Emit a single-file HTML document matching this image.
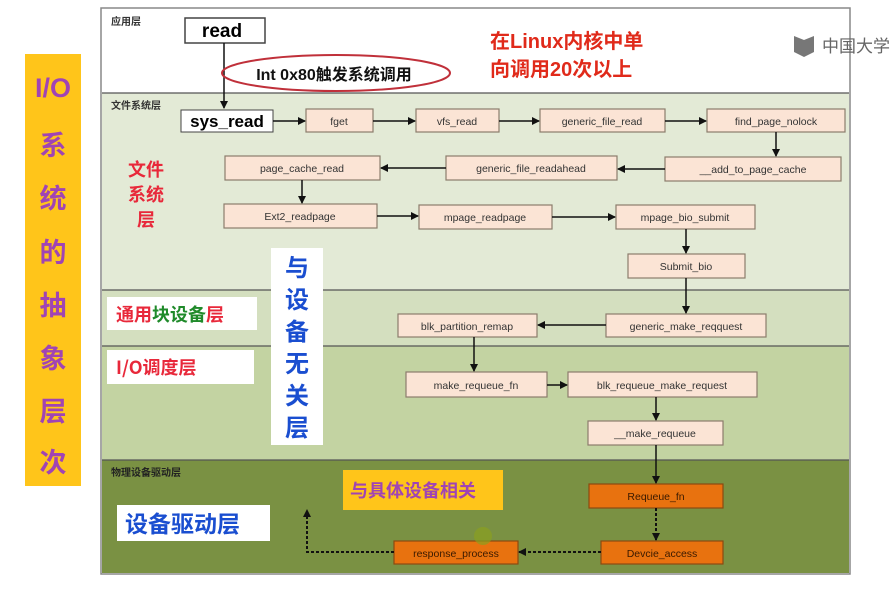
<!DOCTYPE html>
<html><head><meta charset="utf-8"><style>
html,body{margin:0;padding:0;background:#fff;width:891px;height:589px;overflow:hidden}
text{font-family:"Liberation Sans","Noto Sans CJK SC",sans-serif}
.cj{font-family:"Noto Sans CJK SC","WenQuanYi Zen Hei",sans-serif;font-weight:bold}
</style></head><body>
<svg width="891" height="589" viewBox="0 0 891 589" xmlns="http://www.w3.org/2000/svg">
<defs>
<marker id="a" markerWidth="8" markerHeight="8" refX="7" refY="4" orient="auto" markerUnits="userSpaceOnUse"><path d="M0,0 L8,4 L0,8 z" fill="#111"/></marker>
</defs>
<rect x="25" y="54" width="56" height="432" fill="#ffc51a"/>
<g class="cj" fill="#a044b4" font-size="27" text-anchor="middle">
<text x="53" y="97" font-family="Liberation Sans" font-weight="bold">I/O</text>
<text x="53" y="155">系</text><text x="53" y="208">统</text><text x="53" y="262">的</text>
<text x="53" y="315">抽</text><text x="53" y="368">象</text><text x="53" y="421">层</text><text x="53" y="472">次</text>
</g>
<rect x="101" y="8" width="749" height="566" fill="#fff" stroke="#888" stroke-width="1.5"/>
<rect x="102" y="93" width="747" height="197" fill="#e3ead6"/>
<rect x="102" y="290" width="747" height="56" fill="#d4dfbf"/>
<rect x="102" y="346" width="747" height="114" fill="#c3d3a2"/>
<rect x="102" y="460" width="747" height="113" fill="#7a9143"/>
<g stroke="#555" stroke-width="1.2"><line x1="102" y1="93" x2="849" y2="93"/><line x1="102" y1="290" x2="849" y2="290"/><line x1="102" y1="346" x2="849" y2="346"/><line x1="102" y1="460" x2="849" y2="460"/></g>
<text x="111" y="25" font-size="10" fill="#333" class="cj">应用层</text>
<text x="111" y="109" font-size="10" fill="#333" class="cj">文件系统层</text>
<text x="111" y="476" font-size="10" fill="#222" class="cj">物理设备驱动层</text>
<rect x="185" y="18" width="80" height="25" fill="#fff" stroke="#444" stroke-width="1.5"/>
<text x="222" y="37" font-size="19" font-weight="bold" text-anchor="middle">read</text>
<line x1="224" y1="43" x2="224" y2="108" stroke="#111" stroke-width="1.5" marker-end="url(#a)"/>
<ellipse cx="336" cy="73" rx="114" ry="18" fill="none" stroke="#c0303a" stroke-width="2"/>
<text x="334" y="80" font-size="16" font-weight="bold" text-anchor="middle" fill="#111">Int 0x80<tspan class="cj">触发系统调用</tspan></text>
<g class="cj" fill="#e02a1a" font-size="20"><text x="490" y="48">在Linux内核中单</text><text x="490" y="76">向调用20次以上</text></g>
<path d="M794,36 l10,4 l10,-4 v16 l-10,5 l-10,-5z" fill="#777"/>
<text x="822" y="52" font-size="17" fill="#666" class="cj" style="font-weight:normal">中国大学</text>
<rect x="181" y="110" width="92" height="22" fill="#fff" stroke="#444"/>
<text x="227" y="127" font-size="17" font-weight="bold" text-anchor="middle">sys_read</text>
<g fill="#fbe4d5" stroke="#8c7c6c" stroke-width="1.2">
<rect x="306" y="109" width="67" height="23"/><rect x="416" y="109" width="83" height="23"/>
<rect x="540" y="109" width="125" height="23"/><rect x="707" y="109" width="138" height="23"/>
<rect x="665" y="157" width="176" height="24"/><rect x="446" y="156" width="171" height="24"/>
<rect x="225" y="156" width="155" height="24"/><rect x="224" y="204" width="153" height="24"/>
<rect x="419" y="205" width="133" height="24"/><rect x="616" y="205" width="139" height="24"/>
<rect x="628" y="254" width="117" height="24"/>
<rect x="398" y="314" width="139" height="23"/><rect x="606" y="314" width="160" height="23"/>
<rect x="406" y="372" width="141" height="25"/><rect x="568" y="372" width="189" height="25"/>
<rect x="588" y="421" width="135" height="24"/>
</g>
<g fill="#e8720f" stroke="#8a4a10" stroke-width="1.2">
<rect x="589" y="484" width="134" height="24"/><rect x="601" y="541" width="122" height="23"/><rect x="394" y="541" width="124" height="23"/>
</g>
<g font-size="10.5" fill="#333" text-anchor="middle">
<text x="339" y="125">fget</text><text x="457" y="125">vfs_read</text><text x="602" y="125">generic_file_read</text><text x="776" y="125">find_page_nolock</text>
<text x="753" y="173">__add_to_page_cache</text><text x="531" y="172">generic_file_readahead</text><text x="302" y="172">page_cache_read</text>
<text x="300" y="220">Ext2_readpage</text><text x="485" y="221">mpage_readpage</text><text x="685" y="221">mpage_bio_submit</text>
<text x="686" y="270">Submit_bio</text>
<text x="467" y="330">blk_partition_remap</text><text x="686" y="330">generic_make_reqquest</text>
<text x="476" y="389">make_requeue_fn</text><text x="662" y="389">blk_requeue_make_request</text><text x="655" y="437">__make_requeue</text>
<text x="656" y="500" fill="#3a1a00">Requeue_fn</text><text x="662" y="557" fill="#3a1a00">Devcie_access</text><text x="456" y="557" fill="#3a1a00">response_process</text>
</g>
<g stroke="#111" stroke-width="1.5" fill="none" marker-end="url(#a)">
<line x1="273" y1="121" x2="305" y2="121"/><line x1="373" y1="121" x2="415" y2="121"/><line x1="499" y1="121" x2="539" y2="121"/><line x1="665" y1="121" x2="706" y2="121"/>
<line x1="776" y1="132" x2="776" y2="156"/><line x1="665" y1="169" x2="618" y2="169"/><line x1="446" y1="168" x2="381" y2="168"/>
<line x1="302" y1="180" x2="302" y2="203"/><line x1="377" y1="216" x2="418" y2="216"/><line x1="552" y1="217" x2="615" y2="217"/>
<line x1="686" y1="229" x2="686" y2="253"/><line x1="686" y1="278" x2="686" y2="313"/><line x1="606" y1="325" x2="538" y2="325"/>
<line x1="474" y1="337" x2="474" y2="371"/><line x1="547" y1="385" x2="567" y2="385"/><line x1="656" y1="397" x2="656" y2="420"/>
<line x1="656" y1="445" x2="656" y2="483"/>
</g>
<g stroke="#111" stroke-width="2" stroke-dasharray="3,2" fill="none" marker-end="url(#a)">
<line x1="656" y1="508" x2="656" y2="540"/><line x1="601" y1="552" x2="519" y2="552"/>
<polyline points="394,552 307,552 307,510"/>
</g>
<g class="cj" font-size="18" fill="#e8283a"><text x="128" y="176">文件</text><text x="128" y="201">系统</text><text x="137" y="226">层</text></g>
<rect x="271" y="248" width="52" height="197" fill="#fff"/>
<g class="cj" font-size="24" fill="#1a4ed0" text-anchor="middle"><text x="297" y="276">与</text><text x="297" y="308">设</text><text x="297" y="340">备</text><text x="297" y="372">无</text><text x="297" y="404">关</text><text x="297" y="436">层</text></g>
<rect x="107" y="297" width="150" height="33" fill="#fff"/>
<text x="116" y="321" font-size="18" class="cj"><tspan fill="#e8283a">通用</tspan><tspan fill="#1f8a2a">块设备</tspan><tspan fill="#e8283a">层</tspan></text>
<rect x="107" y="350" width="147" height="34" fill="#fff"/>
<text x="116" y="374" font-size="18" class="cj" fill="#e8283a">I/O调度层</text>
<rect x="117" y="505" width="153" height="36" fill="#fff"/>
<text x="125" y="532" font-size="23" class="cj" fill="#1a4ed0">设备驱动层</text>
<rect x="343" y="470" width="160" height="40" fill="#ffc51a"/>
<text x="350" y="497" font-size="18" class="cj" fill="#a044b4">与具体设备相关</text>
<circle cx="483" cy="536" r="9" fill="#8aa020" opacity="0.7"/>
</svg>
</body></html>
